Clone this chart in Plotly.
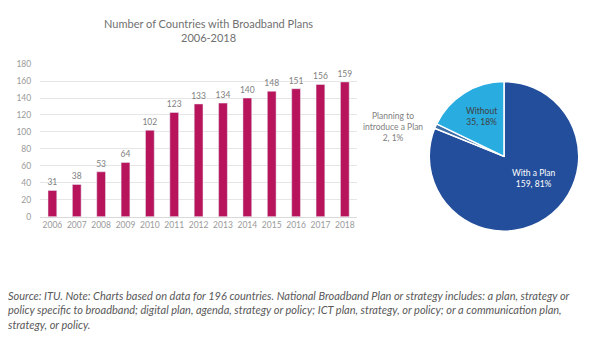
import plotly.graph_objects as go

years = [str(y) for y in range(2006, 2019)]
countries = [31, 38, 53, 64, 102, 123, 133, 134, 140, 148, 151, 156, 159]

pie_labels = ["With a Plan", "Planning to introduce a Plan", "Without"]
pie_values = [159, 2, 35]
pie_pcts = [81, 1, 18]
pie_colors = ["#234E9B", "#3D6FA8", "#29ACE0"]

FONT = "Lato, Open Sans, sans-serif"
GREY = "#9a9a9a"

fig = go.Figure()
fig.add_trace(go.Bar(
    x=years, y=countries, marker_color="#B8145B", width=0.36,
    text=[str(v) for v in countries], textposition="outside", constraintext="none",
    textfont=dict(size=8.5, color="#808080", family=FONT), cliponaxis=False,
    xaxis="x", yaxis="y", showlegend=False, hoverinfo="x+y"))

fig.add_trace(go.Pie(
    labels=pie_labels, values=pie_values, sort=False, direction="clockwise",
    rotation=0, marker=dict(colors=pie_colors, line=dict(color="white", width=1.5)),
    textinfo="none", domain=dict(x=[0.712, 0.968], y=[0.327, 0.772]),
    showlegend=False))

fig.update_layout(
    width=600, height=346, margin=dict(l=0, r=0, t=0, b=0),
    paper_bgcolor="white", plot_bgcolor="white",
    font=dict(family=FONT),
    xaxis=dict(domain=[0.067, 0.595], anchor="y", showgrid=False,
               tickfont=dict(size=8.5, color=GREY, family=FONT), ticks="",
               showline=True, linecolor="#d9d9d9", linewidth=1),
    yaxis=dict(domain=[0.37, 0.824], anchor="x", range=[0, 180], dtick=20,
               showgrid=True, gridcolor="#e6e6e6", gridwidth=1, zeroline=False,
               tickfont=dict(size=8.5, color=GREY, family=FONT), ticks="",
               ticklabelstandoff=8),
)

px = lambda x: x / 600
py = lambda y: (346 - y) / 346

anns = [
    dict(text="Number of Countries with Broadband Plans<br>2006-2018", x=px(208), y=py(26),
         font=dict(size=11, color="#707070", family=FONT)),
    dict(text=f"{pie_labels[0]}<br>{pie_values[0]}, {pie_pcts[0]}%", x=px(533), y=py(179),
         font=dict(size=8.5, color="white", family=FONT)),
    dict(text=f"{pie_labels[2]}<br>{pie_values[2]}, {pie_pcts[2]}%", x=px(481), y=py(115),
         font=dict(size=8.5, color="#404040", family=FONT)),
    dict(text=f"Planning to<br>introduce a Plan<br>{pie_values[1]}, {pie_pcts[1]}%", x=px(393), y=py(126),
         font=dict(size=8.5, color="#808080", family=FONT)),
    dict(text="<i>Source: ITU. Note: Charts based on data for 196 countries. National Broadband Plan or strategy includes: a plan, strategy or<br>"
              "policy specific to broadband; digital plan, agenda, strategy or policy; ICT plan, strategy, or policy; or a communication plan,<br>"
              "strategy, or policy.</i>",
         x=px(6), y=py(314), xanchor="left", align="left",
         font=dict(size=11, color="#595959", family=FONT)),
]
for a in anns:
    a.update(xref="paper", yref="paper", showarrow=False)
    a.setdefault("xanchor", "center")
    a["yanchor"] = "middle"
fig.update_layout(annotations=anns)

fig.write_html("out.html")
